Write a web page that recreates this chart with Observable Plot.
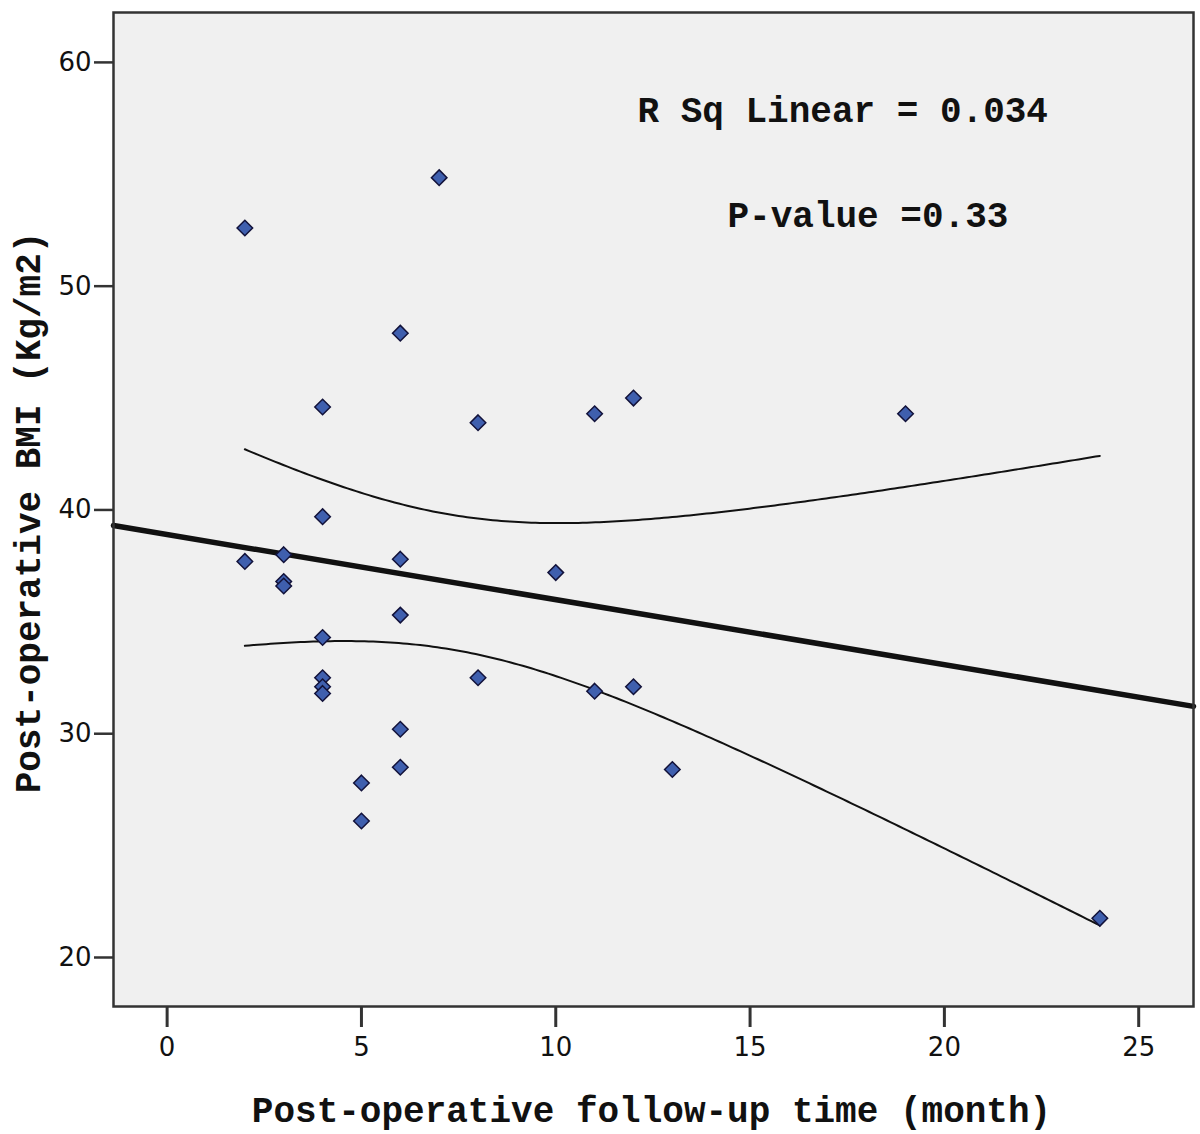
<!DOCTYPE html>
<html><head><meta charset="utf-8">
<script src="https://cdn.jsdelivr.net/npm/d3@7"></script>
<script src="https://cdn.jsdelivr.net/npm/@observablehq/plot@0.6"></script>
<style>body{margin:0;background:#fff}</style>
</head><body><div id="chart"></div>
<script>
// Post-operative follow-up time (months) and BMI (Kg/m2)
const months = [2, 2, 3, 3, 3, 4, 4, 4, 4, 4, 4, 5, 5, 6, 6, 6, 6, 6, 7, 8, 8, 10, 11, 11, 12, 12, 13, 19, 24];
const bmi    = [52.6, 37.7, 38.0, 36.8, 36.6, 44.6, 39.7, 34.3, 32.5, 32.1, 31.8, 27.8, 26.1, 47.9, 37.8, 35.3, 30.2, 28.5, 54.85, 43.9, 32.5, 37.2, 44.3, 31.9, 45.0, 32.1, 28.4, 44.3, 21.75];
const xTicks = [0, 5, 10, 15, 20, 25];
const yTicks = [20, 30, 40, 50, 60];
const annotations = ["R Sq Linear = 0.034", "P-value =0.33"];
const xLabel = "Post-operative follow-up time (month)";
const yLabel = "Post-operative BMI (Kg/m2)";
const xDomain = [-1.38, 26.41];
const yDomain = [17.81, 62.23];
const tCrit = 2.052; // t(0.975, df = 27)

const points = months.map((m, i) => ({x: m, y: bmi[i]}));
const n = points.length;
const mx = d3.mean(months), my = d3.mean(bmi);
const sxx = d3.sum(months, x => (x - mx) ** 2);
const sxy = d3.sum(points, d => (d.x - mx) * (d.y - my));
const slope = sxy / sxx, intercept = my - slope * mx;
const sse = d3.sum(points, d => (d.y - intercept - slope * d.x) ** 2);
const s = Math.sqrt(sse / (n - 2));
const fit = xDomain.map(x => ({x, y: intercept + slope * x}));
const [xmin, xmax] = d3.extent(months);
const ciX = d3.range(xmin, xmax + 1e-9, (xmax - xmin) / 200);
const hw = x => tCrit * s * Math.sqrt(1 / n + (x - mx) ** 2 / sxx);
const upper = ciX.map(x => ({x, y: intercept + slope * x + hw(x)}));
const lower = ciX.map(x => ({x, y: intercept + slope * x - hw(x)}));

const boldFont = {fontFamily: "Liberation Mono", fontWeight: "bold", fontSize: 36, fill: "#111"};

const chart = Plot.plot({
  width: 1200, height: 1134,
  marginLeft: 113, marginRight: 7, marginTop: 12, marginBottom: 128,
  x: {domain: xDomain, label: null},
  y: {domain: yDomain, label: null},
  style: {background: "#fff", fontFamily: "DejaVu Sans", color: "#111"},
  marks: [
    Plot.frame({fill: "#f0f0f0"}),
    Plot.axisX({ticks: xTicks, tickSize: 21, tickPadding: 10, fontSize: 26, fill: "#111", strokeWidth: 3, stroke: "#333", label: null}),
    Plot.axisY({ticks: yTicks, tickSize: 19, tickPadding: 3, fontSize: 26, fill: "#111", strokeWidth: 2.5, stroke: "#333", label: null}),
    Plot.line(upper, {x: "x", y: "y", stroke: "#111", strokeWidth: 2}),
    Plot.line(lower, {x: "x", y: "y", stroke: "#111", strokeWidth: 2}),
    Plot.line(fit, {x: "x", y: "y", stroke: "#111", strokeWidth: 5.5}),
    Plot.dot(points, {x: "x", y: "y", symbol: "diamond2", r: 7, fill: "#3f5fae", stroke: "#12123a", strokeWidth: 1.5}),
    Plot.frame({stroke: "#333", strokeWidth: 2.5}),
    Plot.text([annotations[0]], {text: d => d, frameAnchor: "top-left", dx: 524, dy: 98, textAnchor: "start", lineAnchor: "middle", ...boldFont}),
    Plot.text([annotations[1]], {text: d => d, frameAnchor: "top-left", dx: 614, dy: 203, textAnchor: "start", lineAnchor: "middle", ...boldFont}),
    Plot.text([xLabel], {text: d => d, frameAnchor: "bottom", dx: -2, dy: 104, textAnchor: "middle", lineAnchor: "middle", ...boldFont}),
    Plot.text([yLabel], {text: d => d, frameAnchor: "left", dx: -85, dy: 3, rotate: -90, textAnchor: "middle", lineAnchor: "middle", ...boldFont})
  ]
});
document.getElementById("chart").append(chart);
</script>
</body></html>
